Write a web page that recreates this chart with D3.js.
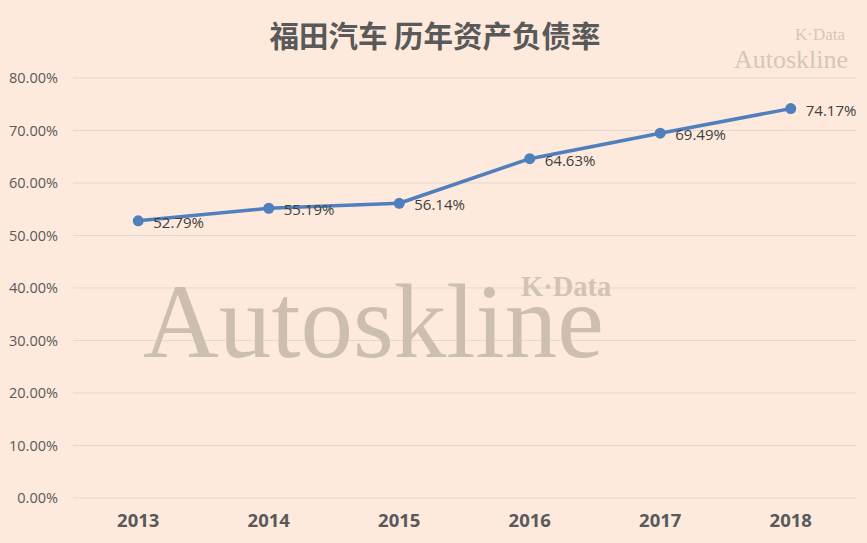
<!DOCTYPE html>
<html><head><meta charset="utf-8">
<script src="https://cdn.jsdelivr.net/npm/d3@7"></script>
<style>body{margin:0;background:#fdeadd;}svg{display:block;}</style>
</head><body>
<svg id="c" width="867" height="543"></svg>
<script>
const categories = ["2013","2014","2015","2016","2017","2018"];
const values = [52.79, 55.19, 56.14, 64.63, 69.49, 74.17];
const yTicks = [0,10,20,30,40,50,60,70,80];
const title = "福田汽车 历年资产负债率";

const svg = d3.select("#c");
const W = 867, H = 543;
const m = {left:73, right:11, top:78, bottom:45};
svg.append("rect").attr("width",W).attr("height",H).attr("fill","#fdeadd");

const x = d3.scaleBand().domain(categories).range([m.left, W-m.right]);
const y = d3.scaleLinear().domain([0,80]).range([H-m.bottom, m.top]);

// gridlines
svg.append("g").selectAll("line").data(yTicks).join("line")
  .attr("x1", m.left).attr("x2", W-m.right)
  .attr("y1", d=>y(d)).attr("y2", d=>y(d))
  .attr("stroke","#e3d9cf").attr("stroke-width",1);

// watermark big
svg.append("text").attr("x",143).attr("y",357)
  .attr("font-family","'Liberation Serif','Times New Roman',serif")
  .attr("font-size",105).attr("fill","#ccbfb1").text("Autoskline");
svg.append("text").attr("x",521).attr("y",296)
  .attr("font-family","'Liberation Serif',serif").attr("font-weight","bold")
  .attr("font-size",28.5).attr("fill","#d2c3b4").text("K·Data");
// watermark top-right
svg.append("text").attr("x",845).attr("y",40).attr("text-anchor","end")
  .attr("font-family","'Liberation Serif',serif")
  .attr("font-size",17).attr("fill","#d6c6b7").text("K·Data");
svg.append("text").attr("x",848).attr("y",68).attr("text-anchor","end")
  .attr("font-family","'Liberation Serif',serif")
  .attr("font-size",26).attr("fill","#d6c6b7").text("Autoskline");

// y axis labels
const yAxis = d3.axisLeft(y).tickValues(yTicks).tickSize(0).tickPadding(15)
  .tickFormat(d=>d.toFixed(2)+"%");
const gy = svg.append("g").attr("transform",`translate(${m.left},0)`).call(yAxis);
gy.select(".domain").remove();
gy.selectAll("text").attr("font-family","'Open Sans','Noto Sans',sans-serif")
  .attr("font-size",14.5).attr("fill","#595959");

// x axis labels
const xAxis = d3.axisBottom(x).tickSize(0).tickPadding(16);
const gx = svg.append("g").attr("transform",`translate(0,${H-m.bottom})`).call(xAxis);
gx.select(".domain").remove();
gx.selectAll("text").attr("font-family","'Noto Sans',sans-serif").attr("font-weight","bold")
  .attr("font-size",18.5).attr("fill","#595959");

// line
const cx = d=>x(d.c)+x.bandwidth()/2;
const pts = categories.map((c,i)=>({c, v:values[i]}));
svg.append("path").datum(pts)
  .attr("d", d3.line().x(cx).y(d=>y(d.v)))
  .attr("fill","none").attr("stroke","#4f7fbd").attr("stroke-width",3.5)
  .attr("stroke-linejoin","round");
svg.append("g").selectAll("circle").data(pts).join("circle")
  .attr("cx",cx).attr("cy",d=>y(d.v)).attr("r",5.5).attr("fill","#4f7fbd");
svg.append("g").selectAll("text").data(pts).join("text")
  .attr("x",d=>cx(d)+15).attr("y",d=>y(d.v)+7)
  .attr("font-family","'Open Sans','Noto Sans',sans-serif").attr("font-size",15)
  .attr("fill","#404040").text(d=>d.v.toFixed(2)+"%");

// title
svg.append("text").attr("x",435).attr("y",47).attr("text-anchor","middle")
  .attr("font-family","'Noto Sans CJK SC',sans-serif").attr("font-weight","bold")
  .attr("font-size",29.5).attr("fill","#595959").text(title);
</script>
</body></html>
